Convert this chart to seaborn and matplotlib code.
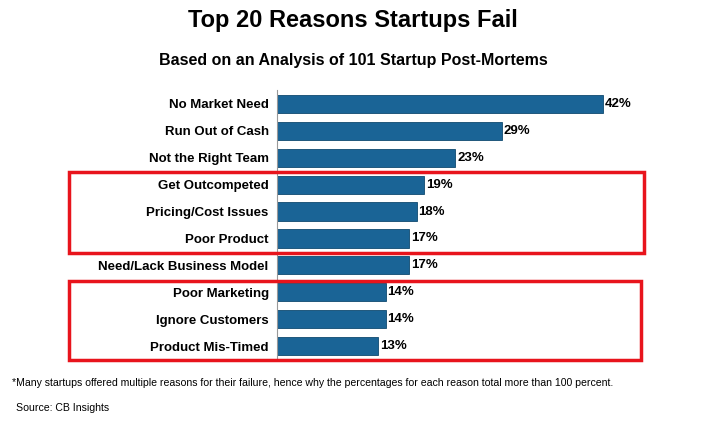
import matplotlib
matplotlib.use("Agg")
import matplotlib.pyplot as plt
import matplotlib.patches as patches
import seaborn as sns
import pandas as pd

reasons = ["No Market Need", "Run Out of Cash", "Not the Right Team", "Get Outcompeted",
           "Pricing/Cost Issues", "Poor Product", "Need/Lack Business Model",
           "Poor Marketing", "Ignore Customers", "Product Mis-Timed"]
percent = [42, 29, 23, 19, 18, 17, 17, 14, 14, 13]

df = pd.DataFrame({"reason": reasons, "pct": percent})

W, H = 706, 425
fig = plt.figure(figsize=(W/100, H/100), dpi=100)
fig.patch.set_facecolor("white")
ax = fig.add_axes([277/W, 1-359.5/H, 349/W, 269/H])
sns.barplot(data=df, x="pct", y="reason", orient="h", color="#1a6496",
            width=0.68, edgecolor="#0f4a70", linewidth=0.6, ax=ax, saturation=1)
ax.set_xlim(0, 45)
ax.set_ylim(9.5, -0.5)
ax.set_xlabel(""); ax.set_ylabel("")
ax.set_xticks([])
for s in ["top", "right", "bottom"]:
    ax.spines[s].set_visible(False)
ax.spines["left"].set_color("#999999")
ax.tick_params(axis="y", length=0, pad=6)
for lab in ax.get_yticklabels():
    lab.set_fontweight("bold"); lab.set_fontsize(9.5); lab.set_fontfamily("Liberation Sans")
for i, v in enumerate(percent):
    ax.text(v + 0.25, i, f"{v}%", va="center", ha="left", fontsize=9.5,
            fontweight="bold", family="Liberation Sans")

fig.text(0.5, 1-20/H, "Top 20 Reasons Startups Fail", ha="center", va="center",
         fontsize=17, fontweight="bold", family="Liberation Sans")
fig.text(0.5, 1-60/H, "Based on an Analysis of 101 Startup Post-Mortems", ha="center",
         va="center", fontsize=11.5, fontweight="bold", family="Liberation Sans")
fig.text(12/W, 1-383/H, "*Many startups offered multiple reasons for their failure, hence why the percentages for each reason total more than 100 percent.",
         ha="left", va="center", fontsize=7.6, family="Liberation Sans")
fig.text(16/W, 1-408/H, "Source: CB Insights", ha="left", va="center", fontsize=7.6,
         family="Liberation Sans")

for (x0, y0, x1, y1) in [(69, 172, 644, 253), (69, 281, 641, 360)]:
    fig.patches.append(patches.Rectangle((x0/W, 1-y1/H), (x1-x0)/W, (y1-y0)/H,
                       transform=fig.transFigure, fill=False, edgecolor="#e8141c", linewidth=2.5))

fig.savefig("out.png", dpi=100)
